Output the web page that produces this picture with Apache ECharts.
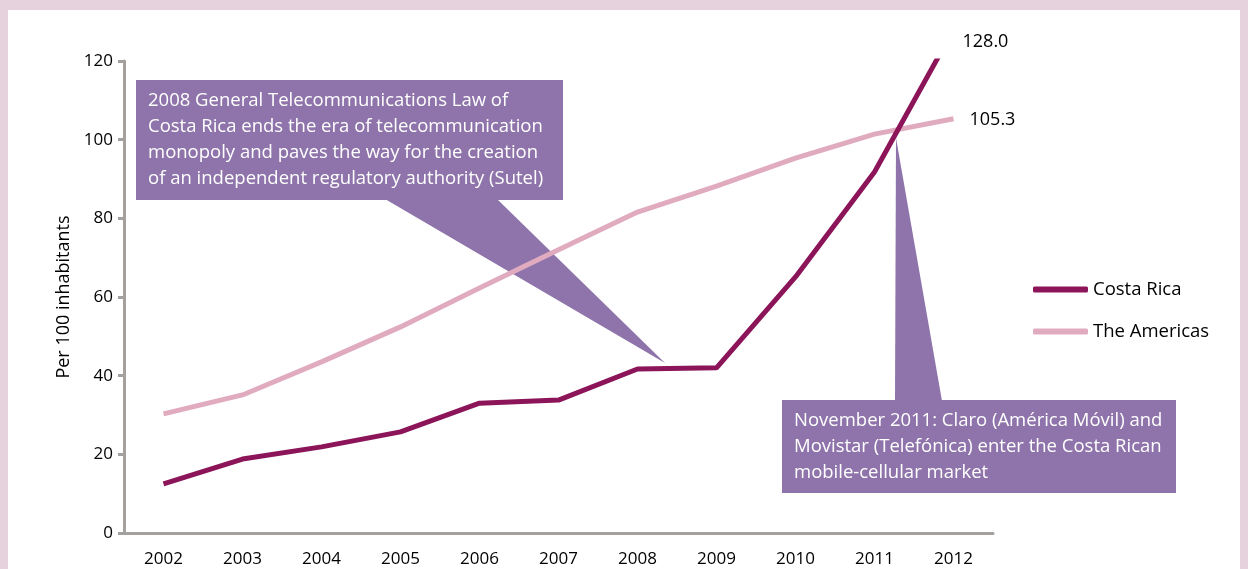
<!DOCTYPE html>
<html>
<head>
<meta charset="utf-8">
<script src="https://cdn.jsdelivr.net/npm/echarts@6/dist/echarts.min.js"></script>
<style>
  html, body { margin: 0; padding: 0; background: #e6d2dc; }
  #panel { position: absolute; left: 8px; top: 10px; right: 8px; bottom: 0; background: #fff; }
  #main { position: absolute; left: 0; top: 0; width: 1248px; height: 569px; }
</style>
</head>
<body>
<div id="panel"></div>
<div id="main"></div>
<script>
// mobile-cellular subscriptions per 100 inhabitants
const years = ['2002', '2003', '2004', '2005', '2006', '2007', '2008', '2009', '2010', '2011', '2012'];
const costaRica = [12.5, 18.8, 21.9, 25.7, 33.0, 33.8, 41.7, 42.0, 65.1, 91.8, 128.0];
const americas = [30.3, 35.1, 43.5, 52.4, 62.3, 72.0, 81.6, 88.2, 95.3, 101.4, 105.3];
const yTicks = [0, 20, 40, 60, 80, 100, 120];

const font = '"Open Sans", sans-serif';
const purple = '#8e74aa';

const note1 = [
  '2008 General Telecommunications Law of',
  'Costa Rica ends the era of telecommunication',
  'monopoly and paves the way for the creation',
  'of an independent regulatory authority (Sutel)'
].join('\n');
const note2 = [
  'November 2011: Claro (América Móvil) and',
  'Movistar (Telefónica) enter the Costa Rican',
  'mobile-cellular market'
].join('\n');

const chart = echarts.init(document.getElementById('main'));
chart.setOption({
  animation: false,
  backgroundColor: 'transparent',
  textStyle: { fontFamily: font },
  grid: { left: 124, top: 61, width: 869, height: 472 },
  legend: {
    orient: 'vertical',
    left: 1033,
    top: 280,
    padding: 0,
    icon: 'roundRect',
    itemWidth: 55,
    itemHeight: 6,
    itemGap: 23,
    textStyle: { fontSize: 18.5, color: '#000', fontFamily: font },
    data: ['Costa Rica', 'The Americas']
  },
  xAxis: {
    type: 'category',
    data: years,
    boundaryGap: true,
    axisLine: { lineStyle: { color: '#a3a09e', width: 3 } },
    axisTick: { length: 7, lineStyle: { color: '#a3a09e', width: 3 } },
    axisLabel: { color: '#000', fontSize: 17, margin: 18, fontFamily: font }
  },
  yAxis: {
    type: 'value',
    min: yTicks[0],
    max: yTicks[yTicks.length - 1],
    interval: 20,
    name: 'Per 100 inhabitants',
    nameLocation: 'middle',
    nameRotate: 90,
    nameGap: 44,
    nameTextStyle: { color: '#000', fontSize: 18, fontFamily: font },
    splitLine: { show: false },
    axisLine: { show: true, lineStyle: { color: '#a3a09e', width: 3 } },
    axisTick: { show: true, length: 6, lineStyle: { color: '#a3a09e', width: 3 } },
    axisLabel: { color: '#000', fontSize: 17, margin: 11, fontFamily: font }
  },
  series: [
    {
      name: 'The Americas',
      type: 'line',
      data: americas,
      symbol: 'none',
      color: '#e1abbf',
      lineStyle: { width: 5, color: '#e1abbf' },
      z: 3
    },
    {
      name: 'Costa Rica',
      type: 'line',
      data: costaRica,
      symbol: 'none',
      color: '#8c155a',
      lineStyle: { width: 5, color: '#8c155a' },
      z: 4
    }
  ],
  graphic: [
    { type: 'polygon', z: 1, shape: { points: [[385, 199], [497, 199], [665, 363]] }, style: { fill: purple } },
    { type: 'rect', z: 1, shape: { x: 136, y: 80, width: 427, height: 120 }, style: { fill: purple } },
    { type: 'text', z: 1, left: 148, top: 88, style: { text: note1, fill: '#fff', fontSize: 18.5, lineHeight: 26, fontFamily: font } },
    { type: 'polygon', z: 1, shape: { points: [[895, 401], [942, 401], [896, 138]] }, style: { fill: purple } },
    { type: 'rect', z: 1, shape: { x: 782, y: 400, width: 394, height: 93 }, style: { fill: purple } },
    { type: 'text', z: 1, left: 794, top: 408, style: { text: note2, fill: '#fff', fontSize: 18.5, lineHeight: 26, fontFamily: font } }
  ]
});

// end-of-line value labels, placed from the data through the chart's scales
const last = years.length - 1;
const crPt = chart.convertToPixel({ gridIndex: 0 }, [years[last], costaRica[last]]);
const amPt = chart.convertToPixel({ gridIndex: 0 }, [years[last], americas[last]]);
chart.setOption({
  graphic: [
    { type: 'text', id: 'crLabel', x: crPt[0] + 9, y: crPt[1] + 12, style: { text: costaRica[last].toFixed(1), fill: '#000', fontSize: 18, fontFamily: font, verticalAlign: 'middle' } },
    { type: 'text', id: 'amLabel', x: amPt[0] + 16, y: amPt[1] + 1, style: { text: americas[last].toFixed(1), fill: '#000', fontSize: 18, fontFamily: font, verticalAlign: 'middle' } }
  ]
});
</script>
</body>
</html>
